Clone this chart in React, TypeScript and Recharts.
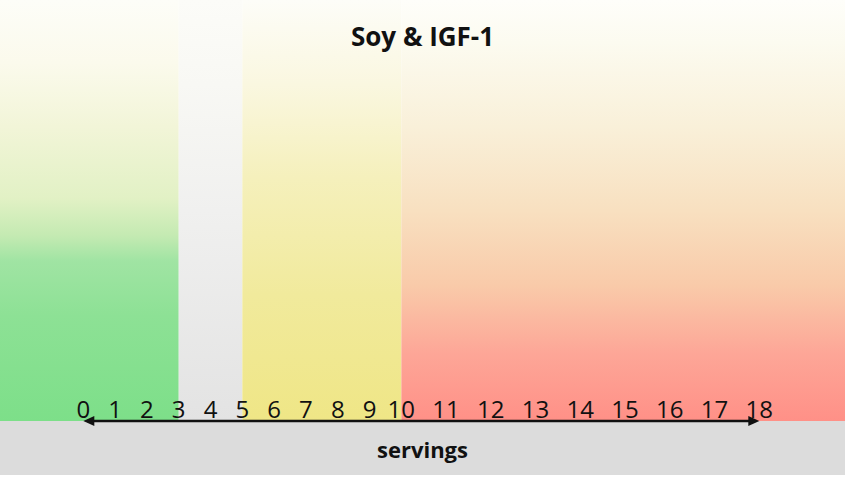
import { ComposedChart, XAxis, YAxis, ReferenceArea, ReferenceLine, Label } from 'recharts';

// tick labels along the servings axis
const servings = [0, 1, 2, 3, 4, 5, 6, 7, 8, 9, 10, 11, 12, 13, 14, 15, 16, 17, 18];

// coloured zones (null = runs to the plot edge)
const zoneIds = ['low', 'none', 'mid', 'high'];
const zoneFrom: (number | null)[] = [null, 3, 5, 10];
const zoneTo: (number | null)[] = [3, 5, 10, null];

const title = 'Soy & IGF-1';
const axisTitle = 'servings';

// axis is stretched above 10 servings
const BREAK = 10;
const STRETCH = 1.407;
const toAxis = (s: number) => (s <= BREAK ? s : BREAK + (s - BREAK) * STRETCH);

const X_MIN = -2.62;
const X_MAX = 23.95;

const W = 850;
const H = 478;
const PLOT_H = 421;

const font = '"Open Sans", "DejaVu Sans", sans-serif';

function ServingTick(props: any) {
  const { x, y, index } = props;
  return (
    <text x={x} y={y - 5} textAnchor="middle" fontFamily={font} fontSize={24} fill="#111">
      {servings[index]}
    </text>
  );
}

function DoubleArrow(props: any) {
  const { x1, y1, x2, y2 } = props;
  const head = 11;
  const half = 5;
  return (
    <g>
      <line x1={x1 + 4} y1={y1} x2={x2 - 4} y2={y2} stroke="#111" strokeWidth={2.5} />
      <polygon points={`${x1},${y1} ${x1 + head},${y1 - half} ${x1 + head},${y1 + half}`} fill="#111" />
      <polygon points={`${x2},${y2} ${x2 - head},${y2 - half} ${x2 - head},${y2 + half}`} fill="#111" />
    </g>
  );
}

const gradients: Record<string, [number, string][]> = {
  low: [
    [0, '#fdfdf8'],
    [0.15, '#fbfaec'],
    [0.3, '#f2f5d8'],
    [0.47, '#e2f1c5'],
    [0.56, '#c4eab2'],
    [0.62, '#a0e4a3'],
    [0.75, '#8de195'],
    [1, '#7ddf89'],
  ],
  none: [
    [0, '#fcfcf8'],
    [0.2, '#f8f8f4'],
    [0.5, '#f0f0ef'],
    [1, '#e3e3e3'],
  ],
  mid: [
    [0, '#fdfdf8'],
    [0.2, '#faf7e0'],
    [0.42, '#f5f0bc'],
    [0.7, '#f1ea9c'],
    [1, '#efe686'],
  ],
  high: [
    [0, '#fefefa'],
    [0.1, '#fcfbf0'],
    [0.3, '#f9f0d9'],
    [0.5, '#f8e0c0'],
    [0.68, '#f9caa9'],
    [0.84, '#fda697'],
    [1, '#ff9087'],
  ],
};

export default function App() {
  return (
    <div style={{ position: 'fixed', left: 0, top: 0, width: W, height: H, background: '#fff' }}>
      <div
        style={{
          position: 'absolute',
          left: 0,
          top: PLOT_H,
          width: 845,
          height: 54,
          background: '#dcdcdc',
        }}
      />
      <ComposedChart
        width={W}
        height={H}
        data={servings.map((s) => ({ pos: toAxis(s) }))}
        margin={{ top: 0, right: 5, left: 0, bottom: 0 }}
        style={{ position: 'absolute', left: 0, top: 0 }}
      >
        <defs>
          {zoneIds.map((id) => (
            <linearGradient key={id} id={`grad-${id}`} x1="0" y1="0" x2="0" y2="1">
              {gradients[id].map(([o, c]) => (
                <stop key={o} offset={`${o * 100}%`} stopColor={c} />
              ))}
            </linearGradient>
          ))}
        </defs>
        <XAxis
          dataKey="pos"
          type="number"
          domain={[X_MIN, X_MAX]}
          allowDataOverflow
          ticks={servings.map(toAxis)}
          interval={0}
          tick={<ServingTick />}
          tickLine={false}
          axisLine={false}
          tickSize={0}
          height={H - PLOT_H}
        >
          <Label
            content={(p: any) => {
              const vb = p.viewBox;
              return (
                <text
                  x={vb.x + vb.width / 2}
                  y={vb.y + 37}
                  textAnchor="middle"
                  fontFamily={font}
                  fontWeight="bold"
                  fontSize={22}
                  fill="#111"
                >
                  {axisTitle}
                </text>
              );
            }}
          />
        </XAxis>
        <YAxis type="number" domain={[0, 1]} allowDataOverflow hide />
        {zoneIds.map((id, i) => (
          <ReferenceArea
            key={id}
            x1={zoneFrom[i] === null ? X_MIN : toAxis(zoneFrom[i] as number)}
            x2={zoneTo[i] === null ? X_MAX : toAxis(zoneTo[i] as number)}
            y1={0}
            y2={1}
            fill={`url(#grad-${id})`}
            fillOpacity={1}
            stroke="none"
          />
        ))}
        <ReferenceLine
          segment={[
            { x: toAxis(servings[0]), y: 0 },
            { x: toAxis(servings[servings.length - 1]), y: 0 },
          ]}
          shape={(p: any) => <DoubleArrow {...p} />}
        />
      </ComposedChart>
      <div
        style={{
          position: 'absolute',
          left: 0,
          top: 18,
          width: 845,
          textAlign: 'center',
          fontFamily: font,
          fontWeight: 'bold',
          fontSize: 26,
          lineHeight: '36px',
          color: '#111',
        }}
      >
        {title}
      </div>
    </div>
  );
}
